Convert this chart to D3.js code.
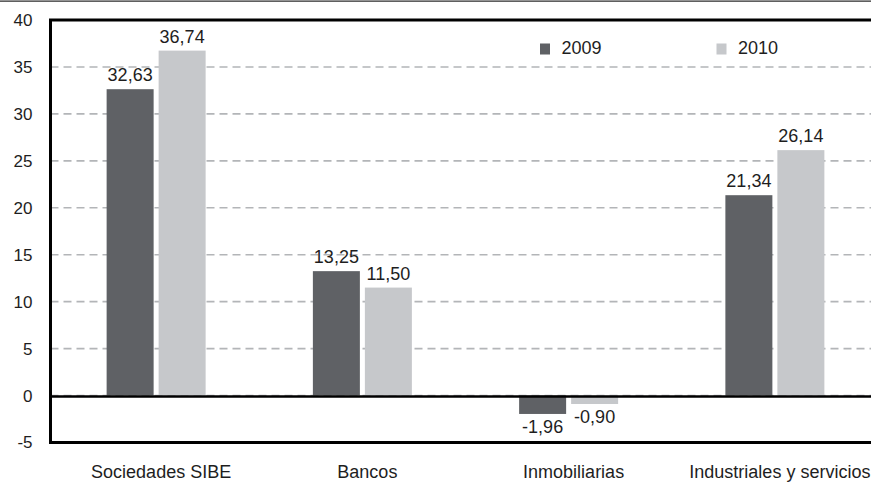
<!DOCTYPE html>
<html>
<head>
<meta charset="utf-8">
<script src="https://cdn.jsdelivr.net/npm/d3@7"></script>
<style>
  html, body { margin: 0; padding: 0; background: #fff; }
  svg { display: block; }
  text { font-family: "Liberation Sans", Arial, Helvetica, sans-serif; fill: #1e1e1e; }
</style>
</head>
<body>
<svg id="chart" width="871" height="482"></svg>
<script>
// Rentabilidad por sector, 2009 y 2010 (%)
const categories = ["Sociedades SIBE", "Bancos", "Inmobiliarias", "Industriales y servicios"];
const seriesNames = ["2009", "2010"];
const values2009 = [32.63, 13.25, -1.96, 21.34];
const values2010 = [36.74, 11.50, -0.90, 26.14];
const labels2009 = ["32,63", "13,25", "-1,96", "21,34"];
const labels2010 = ["36,74", "11,50", "-0,90", "26,14"];
const yTicks = [-5, 0, 5, 10, 15, 20, 25, 30, 35, 40];

const colors = { "2009": "#5f6165", "2010": "#c6c8cb" };

const svg = d3.select("#chart");
const W = 871, H = 482;

const plot = { left: 50.5, top: 20, bottom: 442.5, right: 880 };

const y = d3.scaleLinear().domain([-5, 40]).range([plot.bottom, plot.top]);
const x0 = d3.scaleBand().domain(categories).range([53, 878]).paddingInner(0).paddingOuter(0);
const x1 = d3.scaleBand().domain(seriesNames).range([-49.5, 49.5]).paddingInner(5 / 52);

// thin rule across the top of the figure
svg.append("line")
  .attr("x1", 0).attr("x2", W).attr("y1", 1.2).attr("y2", 1.2)
  .attr("stroke", "#2a2a2a").attr("stroke-width", 1.2);

// dashed horizontal gridlines
svg.append("g")
  .selectAll("line")
  .data(yTicks.filter(t => t > -5 && t < 40))
  .join("line")
  .attr("x1", plot.left).attr("x2", W)
  .attr("y1", d => y(d)).attr("y2", d => y(d))
  .attr("stroke", "#b3b5b8")
  .attr("stroke-width", 1.6)
  .attr("stroke-dasharray", "8,5");

// y axis labels
const yAxis = d3.axisLeft(y).tickValues(yTicks).tickSize(0).tickPadding(18)
  .tickFormat(d => String(d));
const gy = svg.append("g").attr("transform", `translate(${plot.left},0)`).call(yAxis);
gy.select(".domain").remove();
gy.selectAll("text")
  .style("font-size", "17px")
  .style("font-family", "'Liberation Sans', Arial, sans-serif")
  .attr("fill", "#1e1e1e");

// bars
const rows = categories.map((c, i) => ({
  cat: c,
  items: [
    { s: "2009", v: values2009[i], label: labels2009[i] },
    { s: "2010", v: values2010[i], label: labels2010[i] }
  ]
}));

const groups = svg.append("g")
  .selectAll("g")
  .data(rows)
  .join("g")
  .attr("transform", d => `translate(${x0(d.cat) + x0.bandwidth() / 2},0)`);

groups.selectAll("rect")
  .data(d => d.items)
  .join("rect")
  .attr("x", d => x1(d.s))
  .attr("width", x1.bandwidth())
  .attr("y", d => y(Math.max(0, d.v)))
  .attr("height", d => Math.abs(y(d.v) - y(0)))
  .attr("fill", d => colors[d.s]);

// value labels
groups.selectAll("text.val")
  .data(d => d.items)
  .join("text")
  .attr("class", "val")
  .attr("x", d => x1(d.s) + x1.bandwidth() / 2)
  .attr("y", d => d.v >= 0 ? y(d.v) - 8 : y(d.v) + 19)
  .attr("text-anchor", "middle")
  .style("font-size", "18px")
  .text(d => d.label);

// zero line
svg.append("line")
  .attr("x1", plot.left).attr("x2", W)
  .attr("y1", y(0) + 1).attr("y2", y(0) + 1)
  .attr("stroke", "#000").attr("stroke-width", 2.6);

// plot frame: top, left, bottom
svg.append("path")
  .attr("d", `M${W + 5},${plot.top} L${plot.left},${plot.top} L${plot.left},${plot.bottom} L${W + 5},${plot.bottom}`)
  .attr("fill", "none")
  .attr("stroke", "#000")
  .attr("stroke-width", 3);

// category labels
svg.append("g")
  .selectAll("text")
  .data(categories)
  .join("text")
  .attr("x", d => x0(d) + x0.bandwidth() / 2 + 5)
  .attr("y", 478)
  .attr("text-anchor", "middle")
  .style("font-size", "18px")
  .text(d => d);

// legend
const legend = svg.append("g")
  .selectAll("g")
  .data(seriesNames)
  .join("g")
  .attr("transform", (d, i) => `translate(${540 + i * 176.5},43.5)`);
legend.append("rect")
  .attr("width", 10).attr("height", 11)
  .attr("fill", d => colors[d]);
legend.append("text")
  .attr("x", 21.5).attr("y", 10.5)
  .style("font-size", "18px")
  .text(d => d);
</script>
</body>
</html>
